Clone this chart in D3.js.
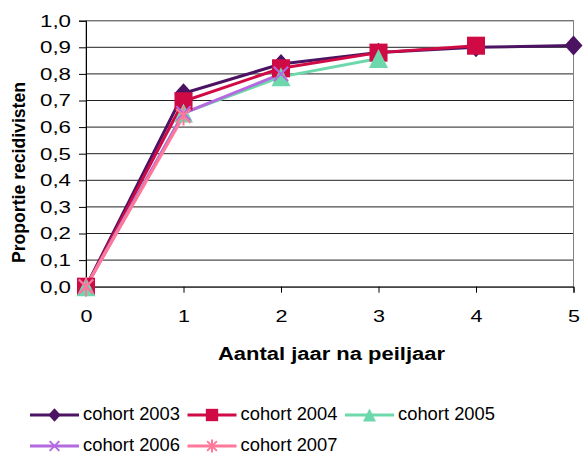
<!DOCTYPE html>
<html>
  <head>
    <meta charset="utf-8">
    <title></title>
    <script src="https://d3js.org/d3.v7.min.js"></script>
  </head>

  <style>
    body {
      margin: 0;
      background-color: white;
    }
    text {
      font-family: 'Liberation Sans', Arial, sans-serif;
      fill: black;
    }
    .axis_title {
      font-weight: bold;
      font-size: 18px;
    }
  </style>

  <body>
    <div id="chart"></div>
    <script>

    // years after the reference year
    var years = [0, 1, 2, 3, 4, 5];
    var yTicks = [0, 0.1, 0.2, 0.3, 0.4, 0.5, 0.6, 0.7, 0.8, 0.9, 1.0];
    var yTickLabels = ['0,0', '0,1', '0,2', '0,3', '0,4', '0,5', '0,6', '0,7', '0,8', '0,9', '1,0'];

    // proportion of recidivists per cohort
    var cohort2003 = [0, 0.727, 0.837, 0.88, 0.90, 0.907];
    var cohort2004 = [0, 0.697, 0.821, 0.88, 0.906];
    var cohort2005 = [0, 0.653, 0.789, 0.858];
    var cohort2006 = [0, 0.652, 0.80];
    var cohort2007 = [0, 0.642];

    var seriesNames = ['cohort 2003', 'cohort 2004', 'cohort 2005', 'cohort 2006', 'cohort 2007'];
    var seriesValues = [cohort2003, cohort2004, cohort2005, cohort2006, cohort2007];
    var colors = ['#4b1361', '#d00a45', '#6ed8ad', '#b469df', '#ff7899'];
    var markers = ['diamond', 'square', 'triangle', 'cross', 'star'];

    var W = 583, H = 454;
    var plot = { left: 86, right: 573.5, top: 20.7, bottom: 286.7 };

    var xScale = d3.scaleLinear().domain([0, 5]).range([plot.left, plot.right]);
    var yScale = d3.scaleLinear().domain([0, 1]).range([plot.bottom, plot.top]);

    // marker shapes, s = half size
    function markerPath(type, s) {
      var p = d3.path();
      if (type === 'diamond') {
        p.moveTo(0, -s * 1.05); p.lineTo(s * 0.95, 0); p.lineTo(0, s * 1.05); p.lineTo(-s * 0.95, 0); p.closePath();
      } else if (type === 'square') {
        p.rect(-s * 0.95, -s * 0.95, s * 1.9, s * 1.9);
      } else if (type === 'triangle') {
        p.moveTo(0, -s); p.lineTo(s, s); p.lineTo(-s, s); p.closePath();
      } else if (type === 'cross') {
        p.moveTo(-s * 0.75, -s * 0.75); p.lineTo(s * 0.75, s * 0.75);
        p.moveTo(s * 0.75, -s * 0.75); p.lineTo(-s * 0.75, s * 0.75);
      } else {
        p.moveTo(-s * 0.75, -s * 0.75); p.lineTo(s * 0.75, s * 0.75);
        p.moveTo(s * 0.75, -s * 0.75); p.lineTo(-s * 0.75, s * 0.75);
        p.moveTo(0, -s); p.lineTo(0, s);
      }
      return p.toString();
    }
    function isFilled(type) {
      return type === 'diamond' || type === 'square' || type === 'triangle';
    }

    var svg = d3.select('#chart').append('svg')
      .attr('width', W)
      .attr('height', H);

    // gridlines
    svg.append('g')
      .selectAll('line')
      .data(yTicks.slice(1))
      .enter().append('line')
      .attr('x1', plot.left)
      .attr('x2', plot.right)
      .attr('y1', function(d){ return yScale(d); })
      .attr('y2', function(d){ return yScale(d); })
      .style('stroke', '#222')
      .style('stroke-width', 1);

    // plot border
    svg.append('rect')
      .attr('x', plot.left)
      .attr('y', plot.top)
      .attr('width', plot.right - plot.left)
      .attr('height', plot.bottom - plot.top)
      .style('fill', 'none')
      .style('stroke', '#808080');

    // Y axis
    var yAxis = d3.axisLeft(yScale)
      .tickValues(yTicks)
      .tickSize(7)
      .tickPadding(8)
      .tickFormat(function(d, i){ return yTickLabels[i]; });
    var yGuide = svg.append('g')
      .attr('transform', 'translate(' + plot.left + ',0)')
      .call(yAxis);
    yGuide.select('.domain').style('stroke', 'black');
    yGuide.selectAll('.tick line').style('stroke', 'black');
    yGuide.selectAll('text')
      .style('font-family', "'Liberation Sans', Arial, sans-serif")
      .style('font-size', '17px')
      .attr('textLength', 31)
      .attr('lengthAdjust', 'spacingAndGlyphs');

    // X axis
    var xAxis = d3.axisBottom(xScale)
      .tickValues(years)
      .tickSize(6)
      .tickPadding(17)
      .tickFormat(d3.format('d'));
    var xGuide = svg.append('g')
      .attr('transform', 'translate(0,' + plot.bottom + ')')
      .call(xAxis);
    xGuide.select('.domain').style('stroke', 'black');
    xGuide.selectAll('.tick line').style('stroke', 'black');
    xGuide.selectAll('text')
      .style('font-family', "'Liberation Sans', Arial, sans-serif")
      .style('font-size', '17px')
      .attr('textLength', 12)
      .attr('lengthAdjust', 'spacingAndGlyphs');

    // lines
    var line = d3.line()
      .x(function(d, i){ return xScale(years[i]); })
      .y(function(d){ return yScale(d); });

    seriesValues.forEach(function(vals, k) {
      svg.append('path')
        .datum(vals)
        .attr('d', line)
        .style('fill', 'none')
        .style('stroke', colors[k])
        .style('stroke-width', 3);
    });

    // markers, drawn per series in order
    seriesValues.forEach(function(vals, k) {
      svg.append('g')
        .selectAll('path')
        .data(vals)
        .enter().append('path')
        .attr('transform', function(d, i){ return 'translate(' + xScale(years[i]) + ',' + yScale(d) + ')'; })
        .attr('d', markerPath(markers[k], 9.5))
        .style('fill', isFilled(markers[k]) ? colors[k] : 'none')
        .style('stroke', colors[k])
        .style('stroke-width', isFilled(markers[k]) ? 0 : 2);
    });

    // axis titles
    svg.append('text')
      .attr('class', 'axis_title')
      .attr('x', 331.5)
      .attr('y', 360)
      .attr('text-anchor', 'middle')
      .attr('textLength', 227)
      .attr('lengthAdjust', 'spacingAndGlyphs')
      .text('Aantal jaar na peiljaar');

    svg.append('text')
      .attr('class', 'axis_title')
      .attr('transform', 'translate(25,172.5) rotate(-90)')
      .attr('text-anchor', 'middle')
      .attr('textLength', 181)
      .attr('lengthAdjust', 'spacingAndGlyphs')
      .text('Proportie recidivisten');

    // legend
    var legendX = [30, 187.5, 345];
    var legendY = [415, 446];
    var legend = svg.append('g')
      .selectAll('g')
      .data(seriesNames)
      .enter().append('g')
      .attr('transform', function(d, i){
        return 'translate(' + legendX[i % 3] + ',' + legendY[Math.floor(i / 3)] + ')';
      });

    legend.append('line')
      .attr('x1', 0)
      .attr('x2', 49)
      .style('stroke', function(d, i){ return colors[i]; })
      .style('stroke-width', 3);

    legend.append('path')
      .attr('transform', 'translate(24.5,0)')
      .attr('d', function(d, i){ return markerPath(markers[i], 6.5); })
      .style('fill', function(d, i){ return isFilled(markers[i]) ? colors[i] : 'none'; })
      .style('stroke', function(d, i){ return colors[i]; })
      .style('stroke-width', function(d, i){ return isFilled(markers[i]) ? 0 : 2; });

    legend.append('text')
      .attr('x', 53)
      .attr('dy', '0.25em')
      .style('font-size', '18.5px')
      .attr('textLength', 97)
      .attr('lengthAdjust', 'spacingAndGlyphs')
      .text(function(d){ return d; });

    </script>
  </body>
</html>
